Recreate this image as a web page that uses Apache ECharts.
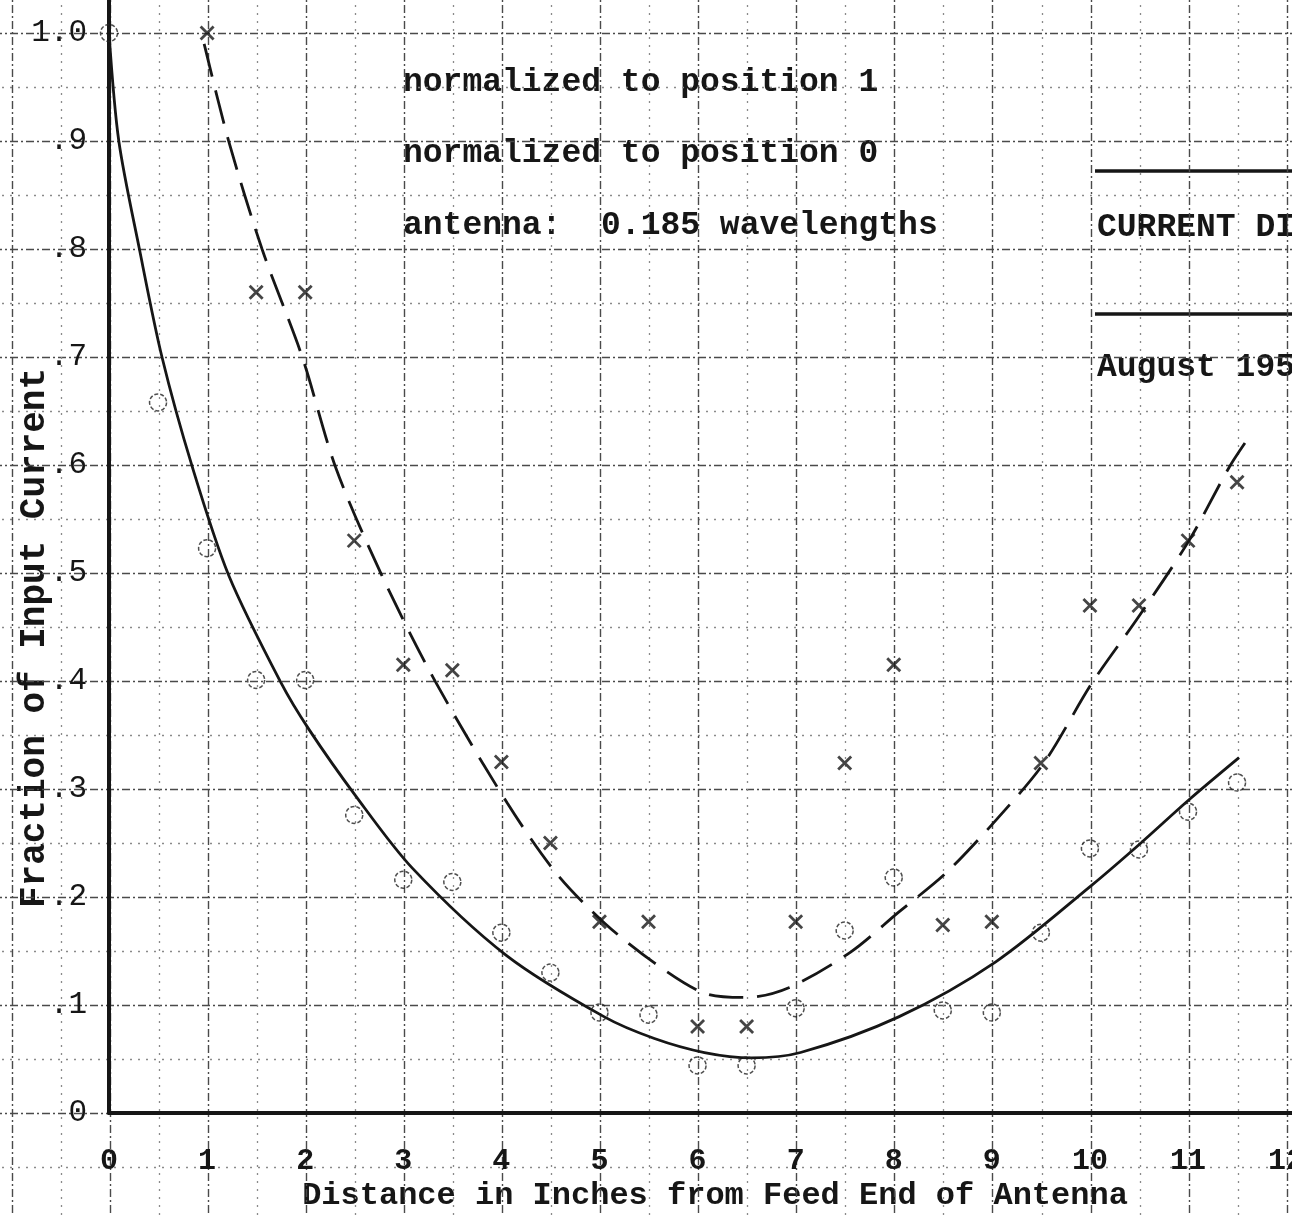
<!DOCTYPE html>
<html>
<head>
<meta charset="utf-8">
<script src="https://cdn.jsdelivr.net/npm/echarts@6/dist/echarts.min.js"></script>
<style>
  html, body { margin: 0; padding: 0; background: #fff; }
  #chart { width: 1292px; height: 1215px; }
</style>
</head>
<body>
<div id="chart"></div>
<script>
var myChart = echarts.init(document.getElementById('chart'));

// x = normalized to position 1, o = normalized to position 0
var crossX = [1.0, 1.5, 2.0, 2.5, 3.0, 3.5, 4.0, 4.5, 5.0, 5.5, 6.0, 6.5, 7.0, 7.5, 8.0, 8.5, 9.0, 9.5, 10.0, 10.5, 11.0, 11.5];
var crossY = [1.0, 0.76, 0.76, 0.53, 0.415, 0.41, 0.325, 0.25, 0.177, 0.177, 0.08, 0.08, 0.177, 0.324, 0.415, 0.174, 0.177, 0.324, 0.47, 0.47, 0.53, 0.584];

var circleX = [0, 0.5, 1.0, 1.5, 2.0, 2.5, 3.0, 3.5, 4.0, 4.5, 5.0, 5.5, 6.0, 6.5, 7.0, 7.5, 8.0, 8.5, 9.0, 9.5, 10.0, 10.5, 11.0, 11.5];
var circleY = [1.0, 0.658, 0.523, 0.401, 0.401, 0.276, 0.216, 0.214, 0.167, 0.13, 0.093, 0.091, 0.044, 0.044, 0.097, 0.169, 0.218, 0.095, 0.093, 0.167, 0.245, 0.244, 0.279, 0.306];

// hand drawn curves
var solidX = [0, 0.1, 0.31, 0.54, 0.85, 1.22, 1.75, 2.04, 2.52, 3.09, 4.05, 5.05, 5.56, 6.07, 6.55, 7.05, 8.05, 9.04, 10.02, 10.52, 11.01, 11.52];
var solidY = [1.0, 0.9, 0.8, 0.7, 0.598, 0.498, 0.399, 0.355, 0.293, 0.227, 0.146, 0.089, 0.069, 0.056, 0.051, 0.056, 0.089, 0.14, 0.211, 0.25, 0.29, 0.329];

var dashX = [0.97, 1.22, 1.56, 1.97, 2.31, 2.78, 3.33, 4.06, 4.56, 5.05, 5.56, 6.07, 6.5, 6.93, 7.56, 8.05, 8.53, 9.04, 9.53, 10.02, 10.5, 11.01, 11.42, 11.6];
var dashY = [0.99, 0.9, 0.8, 0.7, 0.598, 0.498, 0.399, 0.287, 0.222, 0.176, 0.139, 0.111, 0.107, 0.116, 0.149, 0.186, 0.222, 0.271, 0.324, 0.398, 0.46, 0.53, 0.598, 0.623];

var notes = ['normalized to position 1', 'normalized to position 0', 'antenna:  0.185 wavelengths'];
var titleLines = ['CURRENT DISTRIBUTION', 'August 195'];
var xName = 'Distance in Inches from Feed End of Antenna';
var yName = 'Fraction of Input Current';

function pairs(xs, ys) {
    var out = [];
    for (var i = 0; i < xs.length; i++) out.push([xs[i], ys[i]]);
    return out;
}

var mono = 'Liberation Mono';
var ink = '#161616';

var option = {
    backgroundColor: '#ffffff',
    animation: false,
    grid: [
        { left: 109, right: 0, top: 0, bottom: 102, outerBoundsMode: 'none' },       // plot
        { left: -86, right: -93, top: -75, bottom: -114, outerBoundsMode: 'none' }   // graph paper
    ],
    xAxis: [{
        type: 'value',
        gridIndex: 0,
        min: 0,
        max: 12.06,
        interval: 1,
        axisLine: { show: true, onZero: false, lineStyle: { color: ink, width: 4 } },
        axisTick: { show: false },
        splitLine: { show: false },
        axisLabel: {
            margin: 33,
            color: ink,
            fontFamily: mono,
            fontWeight: 'bold',
            fontSize: 30,
            formatter: function (v) {
                return Math.abs(v - Math.round(v)) < 1e-6 ? String(Math.round(v)) : '';
            }
        }
    }, {
        type: 'value',
        gridIndex: 1,
        min: -2,
        max: 13,
        interval: 1,
        axisLine: { show: false },
        axisTick: { show: false },
        axisLabel: { show: false },
        splitLine: { show: true, lineStyle: { color: '#4a4a4a', width: 1.4, type: [8, 3, 2, 3] } },
        minorTick: { show: false, splitNumber: 2 },
        minorSplitLine: { show: true, lineStyle: { color: '#8a8a8a', width: 1.3, type: [2, 6] } }
    }],
    yAxis: [{
        type: 'value',
        gridIndex: 0,
        min: 0,
        max: 1.0306,
        interval: 0.1,
        axisLine: { show: true, onZero: false, lineStyle: { color: ink, width: 4 } },
        axisTick: { show: false },
        splitLine: { show: false },
        axisLabel: {
            margin: 22,
            color: ink,
            fontFamily: mono,
            fontSize: 31,
            formatter: function (v) {
                var r = Math.round(v * 10);
                if (Math.abs(v * 10 - r) > 1e-6) return '';
                if (r === 0) return '0';
                if (r === 10) return '1.0';
                return '.' + r;
            }
        }
    }, {
        type: 'value',
        gridIndex: 1,
        min: -0.2,
        max: 1.1,
        interval: 0.1,
        axisLine: { show: false },
        axisTick: { show: false },
        axisLabel: { show: false },
        splitLine: { show: true, lineStyle: { color: '#4a4a4a', width: 1.4, type: [8, 3, 2, 3] } },
        minorTick: { show: false, splitNumber: 2 },
        minorSplitLine: { show: true, lineStyle: { color: '#8a8a8a', width: 1.3, type: [2, 6] } }
    }],
    graphic: [
        { type: 'text', left: 403, top: 66, style: { text: notes[0], font: 'bold 33px "Liberation Mono"', fill: ink } },
        { type: 'text', left: 403, top: 137, style: { text: notes[1], font: 'bold 33px "Liberation Mono"', fill: ink } },
        { type: 'text', left: 403, top: 209, style: { text: notes[2], font: 'bold 33px "Liberation Mono"', fill: ink } },
        { type: 'line', shape: { x1: 1095, y1: 171, x2: 1292, y2: 171 }, style: { stroke: ink, lineWidth: 3.5 } },
        { type: 'line', shape: { x1: 1095, y1: 314, x2: 1292, y2: 314 }, style: { stroke: ink, lineWidth: 3.5 } },
        { type: 'text', x: 1097, y: 211, style: { text: titleLines[0], font: 'bold 33px "Liberation Mono"', fill: ink } },
        { type: 'text', x: 1097, y: 351, style: { text: titleLines[1], font: 'bold 33px "Liberation Mono"', fill: ink } },
        { type: 'text', x: 715, y: 1196, style: { text: xName, font: 'bold 32px "Liberation Mono"', fill: ink, textAlign: 'center', textVerticalAlign: 'middle' } },
        { type: 'text', x: 35, y: 638, rotation: Math.PI / 2, style: { text: yName, font: 'bold 36px "Liberation Mono"', fill: ink, textAlign: 'center', textVerticalAlign: 'middle' } }
    ],
    series: [{
        name: 'position 0 curve',
        type: 'line',
        xAxisIndex: 0, yAxisIndex: 0,
        data: pairs(solidX, solidY),
        smooth: 0.3,
        showSymbol: false,
        symbol: 'none',
        lineStyle: { color: ink, width: 2.8 },
        z: 3
    }, {
        name: 'position 1 curve',
        type: 'line',
        xAxisIndex: 0, yAxisIndex: 0,
        data: pairs(dashX, dashY),
        smooth: 0.3,
        showSymbol: false,
        symbol: 'none',
        lineStyle: { color: ink, width: 2.8, type: [34, 14] },
        z: 3
    }, {
        name: 'normalized to position 1',
        type: 'scatter',
        xAxisIndex: 0, yAxisIndex: 0,
        data: pairs(crossX, crossY),
        symbol: 'path://M0,0L10,10M10,0L0,10',
        symbolSize: 13,
        itemStyle: { color: 'none', borderColor: ink, borderWidth: 2.8 },
        z: 4
    }, {
        name: 'normalized to position 0',
        type: 'scatter',
        xAxisIndex: 0, yAxisIndex: 0,
        data: pairs(circleX, circleY),
        symbol: 'circle',
        symbolSize: 17,
        itemStyle: { color: 'rgba(0,0,0,0)', borderColor: '#222', borderWidth: 1.5, borderType: [4, 2] },
        z: 4
    }]
};

myChart.setOption(option);
</script>
</body>
</html>
